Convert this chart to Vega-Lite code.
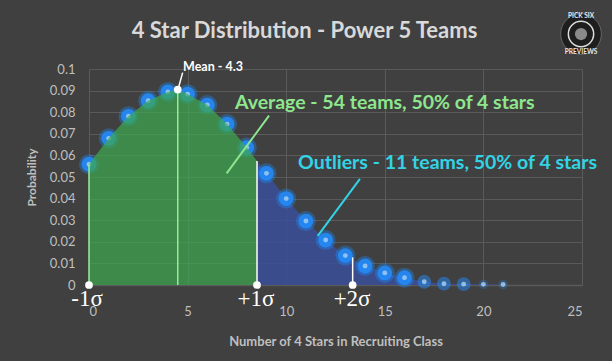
{
  "$schema": "https://vega.github.io/schema/vega-lite/v6.json",
  "width": 493,
  "height": 216,
  "autosize": {"type": "none"},
  "padding": {"left": 89, "top": 69, "right": 30, "bottom": 76},
  "background": "#404040",
  "config": {"view": {"stroke": null}, "font": "Lato"},
  "title": {"text": "4 Star Distribution - Power 5 Teams", "color": "#d9d9d9", "fontSize": 22, "font": "Lato", "fontWeight": "bold", "anchor": "middle", "frame": "group", "dx": -31, "offset": 0, "dy": 31},
  "datasets": {
    "points": [
      {"x": 0, "p": 0.0559}, {"x": 1, "p": 0.0679}, {"x": 2, "p": 0.0781}, {"x": 3, "p": 0.0853},
      {"x": 4, "p": 0.0894}, {"x": 5, "p": 0.0883}, {"x": 6, "p": 0.0833}, {"x": 7, "p": 0.0745},
      {"x": 8, "p": 0.0636}, {"x": 9, "p": 0.0517}, {"x": 10, "p": 0.04}, {"x": 11, "p": 0.0296},
      {"x": 12, "p": 0.0208}, {"x": 13, "p": 0.0136}, {"x": 14, "p": 0.0088}, {"x": 15, "p": 0.0056},
      {"x": 16, "p": 0.0034}, {"x": 17, "p": 0.0015}, {"x": 18, "p": 0.0006}, {"x": 19, "p": 0.0004},
      {"x": 20, "p": 0.0003}, {"x": 21, "p": 0.0002}
    ],
    "green": [
      {"x": 0, "p": 0.0559}, {"x": 1, "p": 0.0679}, {"x": 2, "p": 0.0781}, {"x": 3, "p": 0.0853},
      {"x": 4, "p": 0.0894}, {"x": 4.5, "p": 0.0905}, {"x": 5, "p": 0.0883}, {"x": 6, "p": 0.0833}, {"x": 7, "p": 0.0745},
      {"x": 8, "p": 0.0636}, {"x": 8.52, "p": 0.0574}
    ],
    "blue": [
      {"x": 8.52, "p": 0.0574}, {"x": 9, "p": 0.0517}, {"x": 10, "p": 0.04}, {"x": 11, "p": 0.0296},
      {"x": 12, "p": 0.0208}, {"x": 13, "p": 0.0136}, {"x": 14, "p": 0.0088}, {"x": 15, "p": 0.0056},
      {"x": 16, "p": 0.0034}, {"x": 17, "p": 0.0015}, {"x": 18, "p": 0.0006}, {"x": 19, "p": 0.0004},
      {"x": 20, "p": 0.0003}, {"x": 21, "p": 0.0002}
    ],
    "vlines": [
      {"x": 0, "p": 0, "p2": 0.0559, "kind": "green"},
      {"x": 4.5, "p": 0, "p2": 0.0905, "kind": "green"},
      {"x": 8.52, "p": 0, "p2": 0.0574, "kind": "white"},
      {"x": 13.37, "p": 0, "p2": 0.0128, "kind": "white"}
    ],
    "dots": [
      {"x": 0, "p": 0}, {"x": 8.52, "p": 0}, {"x": 13.37, "p": 0}, {"x": 4.5, "p": 0.0905}
    ],
    "pointers": [
      {"x": 4.75, "p": 0.0983, "x2": 4.53, "p2": 0.0911, "kind": "mean"},
      {"x": 9.13, "p": 0.0784, "x2": 6.98, "p2": 0.0517, "kind": "average"},
      {"x": 13.74, "p": 0.0491, "x2": 11.6, "p2": 0.0227, "kind": "outliers"}
    ],
    "sigmas": [
      {"x": -0.1, "p": 0, "label": "-1σ"},
      {"x": 8.47, "p": 0, "label": "+1σ"},
      {"x": 13.34, "p": 0, "label": "+2σ"}
    ],
    "notes": [
      {"x": 7.4, "p": 0.0843, "label": "Average - 54 teams, 50% of 4 stars", "kind": "average"},
      {"x": 10.6, "p": 0.0565, "label": "Outliers - 11 teams, 50% of 4 stars", "kind": "outliers"}
    ],
    "meanNote": [
      {"x": 4.77, "p": 0.1009, "label": "Mean - 4.3"}
    ],
    "logo": [
      {"x": 24.95, "p": 0.1162}
    ]
  },
  "encoding": {
    "x": {"field": "x", "type": "quantitative", "scale": {"domain": [0, 25]},
      "axis": {"values": [0, 5, 10, 15, 20, 25], "grid": true, "gridColor": "#5a5a5a", "domainColor": "#5a5a5a", "domainWidth": 1.5, "ticks": false,
        "labelColor": "#bfbfbf", "labelFontSize": 13, "labelPadding": 20, "labelFont": "Lato",
        "title": "Number of 4 Stars in Recruiting Class", "titleColor": "#bfbfbf", "titleFontSize": 13, "titleFontWeight": "bold", "titleFont": "Lato", "titlePadding": 17}},
    "y": {"field": "p", "type": "quantitative", "scale": {"domain": [0, 0.1]},
      "axis": {"values": [0, 0.01, 0.02, 0.03, 0.04, 0.05, 0.06, 0.07, 0.08, 0.09, 0.1], "format": ".2~f", "grid": true, "gridColor": "#5a5a5a", "domain": false, "ticks": false,
        "labelColor": "#bfbfbf", "labelFontSize": 13, "labelPadding": 14, "labelFont": "Lato",
        "title": "Probability", "titleColor": "#bfbfbf", "titleFontSize": 12, "titleFontWeight": "bold", "titleFont": "Lato", "titlePadding": 11}}
  },
  "layer": [
    {
      "data": {"name": "blue"},
      "mark": {"type": "area", "color": "#3a4f99", "opacity": 0.85}
    },
    {
      "data": {"name": "points"},
      "transform": [{"filter": "datum.x <= 16"}],
      "mark": {"type": "circle", "color": "#1e90ff", "opacity": 0.35, "size": 400}
    },
    {
      "data": {"name": "points"},
      "transform": [{"filter": "datum.x <= 16"}],
      "mark": {"type": "circle", "color": "#2389f7", "opacity": 0.9, "size": 220}
    },
    {
      "data": {"name": "points"},
      "transform": [{"filter": "datum.x >= 17 && datum.x <= 19"}],
      "mark": {"type": "circle", "color": "#2389f7", "opacity": 0.5, "size": 190}
    },
    {
      "data": {"name": "points"},
      "transform": [{"filter": "datum.x >= 20"}],
      "mark": {"type": "circle", "color": "#2389f7", "opacity": 0.25, "size": 90}
    },
    {
      "data": {"name": "points"},
      "mark": {"type": "circle", "color": "#9fcdf2", "opacity": 0.85, "size": 24}
    },
    {
      "data": {"name": "green"},
      "mark": {"type": "area", "color": "#3caa4e", "opacity": 0.7}
    },
    {
      "data": {"name": "vlines"},
      "transform": [{"filter": "datum.kind === 'green'"}],
      "mark": {"type": "rule", "color": "#98ec98", "strokeWidth": 1.5},
      "encoding": {"y2": {"field": "p2"}}
    },
    {
      "data": {"name": "vlines"},
      "transform": [{"filter": "datum.kind === 'white'"}],
      "mark": {"type": "rule", "color": "#ffffff", "strokeWidth": 1.5},
      "encoding": {"y2": {"field": "p2"}}
    },
    {
      "data": {"name": "pointers"},
      "transform": [{"filter": "datum.kind === 'mean'"}],
      "mark": {"type": "rule", "color": "#ffffff", "strokeWidth": 1.5},
      "encoding": {"x2": {"field": "x2"}, "y2": {"field": "p2"}}
    },
    {
      "data": {"name": "pointers"},
      "transform": [{"filter": "datum.kind === 'average'"}],
      "mark": {"type": "rule", "color": "#8ee68e", "strokeWidth": 2},
      "encoding": {"x2": {"field": "x2"}, "y2": {"field": "p2"}}
    },
    {
      "data": {"name": "pointers"},
      "transform": [{"filter": "datum.kind === 'outliers'"}],
      "mark": {"type": "rule", "color": "#33d3e6", "strokeWidth": 2},
      "encoding": {"x2": {"field": "x2"}, "y2": {"field": "p2"}}
    },
    {
      "data": {"name": "dots"},
      "mark": {"type": "circle", "color": "#ffffff", "opacity": 1, "size": 60}
    },
    {
      "data": {"name": "sigmas"},
      "mark": {"type": "text", "color": "#ffffff", "font": "Liberation Serif", "fontSize": 23, "align": "center", "baseline": "middle", "dy": 14},
      "encoding": {"text": {"field": "label"}}
    },
    {
      "data": {"name": "meanNote"},
      "mark": {"type": "text", "color": "#ffffff", "font": "Lato", "fontWeight": "bold", "fontSize": 12.5, "align": "left", "baseline": "middle"},
      "encoding": {"text": {"field": "label"}}
    },
    {
      "data": {"name": "notes"},
      "transform": [{"filter": "datum.kind === 'average'"}],
      "mark": {"type": "text", "color": "#8ee68e", "font": "Lato", "fontWeight": "bold", "fontSize": 19.5, "align": "left", "baseline": "middle"},
      "encoding": {"text": {"field": "label"}}
    },
    {
      "data": {"name": "notes"},
      "transform": [{"filter": "datum.kind === 'outliers'"}],
      "mark": {"type": "text", "color": "#33d3e6", "font": "Lato", "fontWeight": "bold", "fontSize": 19.5, "align": "left", "baseline": "middle"},
      "encoding": {"text": {"field": "label"}}
    },
    {
      "data": {"name": "logo"},
      "mark": {"type": "point", "shape": "circle", "filled": true, "color": "#1e1e1e", "stroke": "#666666", "strokeWidth": 1, "opacity": 1, "size": 1660}
    },
    {
      "data": {"name": "logo"},
      "mark": {"type": "point", "shape": "circle", "filled": false, "stroke": "#dddddd", "strokeWidth": 1.5, "opacity": 1, "size": 640}
    },
    {
      "data": {"name": "logo"},
      "mark": {"type": "point", "shape": "circle", "filled": true, "color": "#8a8a8a", "opacity": 1, "size": 150}
    },
    {
      "data": {"name": "logo"},
      "mark": {"type": "text", "text": "PICK SIX", "color": "#e6e6e6", "font": "Lato", "fontWeight": "bold", "fontSize": 6.5, "align": "center", "baseline": "middle", "dy": -18}
    },
    {
      "data": {"name": "logo"},
      "mark": {"type": "text", "text": "PREVIEWS", "color": "#e6e6e6", "font": "Lato", "fontWeight": "bold", "fontSize": 6.5, "align": "center", "baseline": "middle", "dy": 18}
    }
  ]
}
